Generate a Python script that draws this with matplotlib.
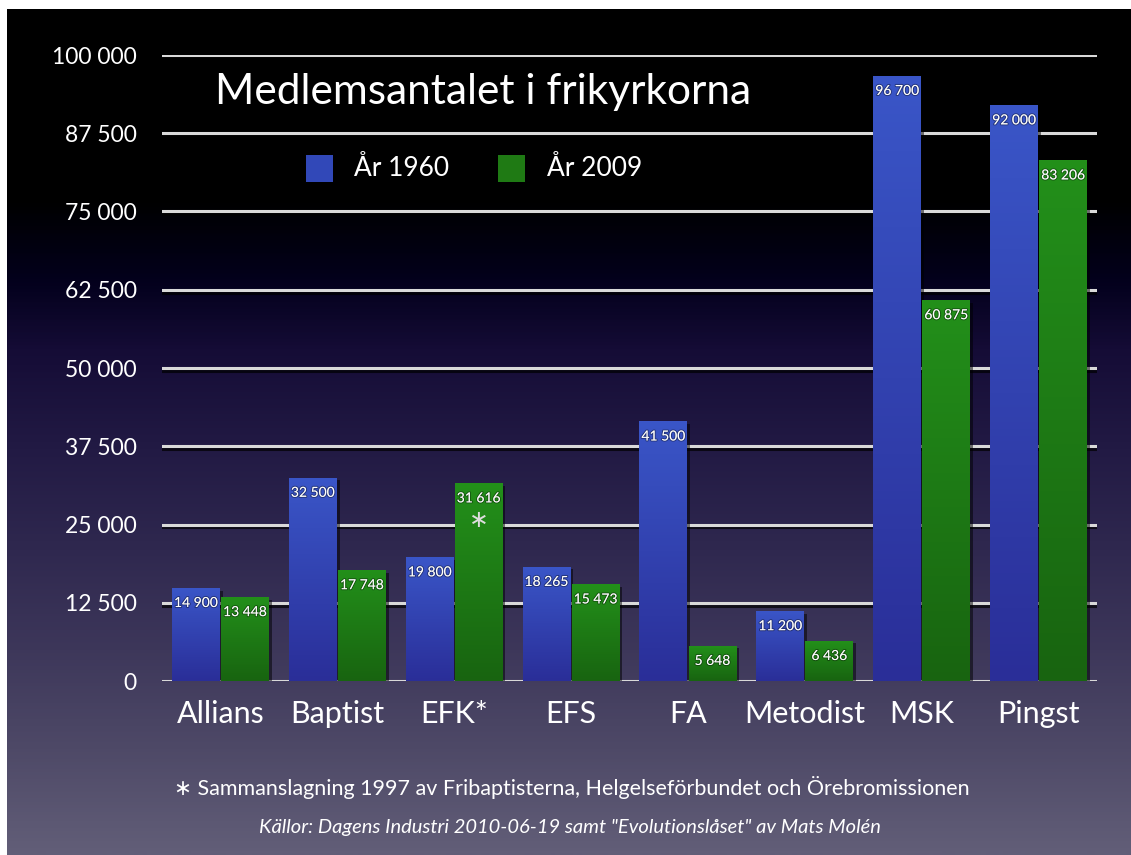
import numpy as np
import matplotlib
matplotlib.use("Agg")
import matplotlib.pyplot as plt
from matplotlib.patches import Rectangle
import matplotlib.patheffects as pe
from matplotlib.colors import LinearSegmentedColormap

categories = ["Allians", "Baptist", "EFK*", "EFS", "FA", "Metodist", "MSK", "Pingst"]
year1960 = [14900, 32500, 19800, 18265, 41500, 11200, 96700, 92000]
year2009 = [13448, 17748, 31616, 15473, 5648, 6436, 60875, 83206]
labels1960 = ["14 900", "32 500", "19 800", "18 265", "41 500", "11 200", "96 700", "92 000"]
labels2009 = ["13 448", "17 748", "31 616", "15 473", "5 648", "6 436", "60 875", "83 206"]
yticks = [0, 12500, 25000, 37500, 50000, 62500, 75000, 87500, 100000]
ytick_labels = ["0", "12 500", "25 000", "37 500", "50 000", "62 500", "75 000", "87 500", "100 000"]
series_names = ["År 1960", "År 2009"]
title = "Medlemsantalet i frikyrkorna"
footnote = "∗ Sammanslagning 1997 av Fribaptisterna, Helgelseförbundet och Örebromissionen"
source = "Källor: Dagens Industri 2010-06-19 samt \"Evolutionslåset\" av Mats Molén"

FONT = ["Lato", "DejaVu Sans"]
plt.rcParams['font.family'] = FONT

W, H = 1131, 855
fig = plt.figure(figsize=(W / 100, H / 100), dpi=100, facecolor="white")

# background gradient panel
bg = fig.add_axes([7 / W, 0, 1 - 7 / W, 1 - 9 / H], zorder=0)
bg.set_axis_off()
def t(ypix):
    return (ypix - 9) / (H - 9)
bg_cmap = LinearSegmentedColormap.from_list(
    "bg", [(0.0, "#000000"), (t(200), "#000000"), (t(280), "#03001c"),
           (t(350), "#150c36"), (t(450), "#221a44"), (t(550), "#2f284f"),
           (t(650), "#3d375a"), (t(750), "#4e4967"), (1.0, "#625e78")])
grad = np.linspace(0, 1, 846).reshape(-1, 1)
bg.imshow(grad, aspect="auto", cmap=bg_cmap, extent=(0, 1, 0, 1), origin="upper")
bg.set_xlim(0, 1)
bg.set_ylim(0, 1)

ax = fig.add_axes([162 / W, 1 - 681 / H, (1097 - 162) / W, (681 - 55) / H], zorder=1)
ax.patch.set_alpha(0)
for s in ax.spines.values():
    s.set_visible(False)

x = np.arange(len(categories))
w = 0.41
off = 0.21

blue_cmap = LinearSegmentedColormap.from_list("b", ["#3a56c8", "#2a2e98"])
green_cmap = LinearSegmentedColormap.from_list("g", ["#23901a", "#186410"])

shadow = [pe.SimplePatchShadow(offset=(2, -2), shadow_rgbFace="black", alpha=0.5), pe.Normal()]
bars1 = ax.bar(x - off, year1960, width=w, color="#3148b8", zorder=3, path_effects=shadow)
bars2 = ax.bar(x + off, year2009, width=w, color="#1f7a14", zorder=3, path_effects=shadow)

vgrad = np.linspace(0, 1, 256).reshape(-1, 1)
for bars, cm in ((bars1, blue_cmap), (bars2, green_cmap)):
    for b in bars:
        x0, y0 = b.get_x(), b.get_y()
        im = ax.imshow(vgrad, cmap=cm, aspect="auto", origin="upper",
                       extent=(x0, x0 + b.get_width(), y0, y0 + b.get_height()), zorder=4)
        im.set_clip_path(b)

# gridlines
line_fx = [pe.SimpleLineShadow(offset=(0, -2), shadow_color="black", alpha=0.7), pe.Normal()]
for yt in yticks:
    ax.axhline(yt, color="#d9d9d9", lw=2.2, zorder=2, path_effects=line_fx)

ax.set_xlim(-0.5, len(categories) - 0.5)
ax.set_ylim(0, 100000)
ax.set_yticks(yticks)
ax.set_yticklabels(ytick_labels)
ax.set_xticks(x)
ax.set_xticklabels(categories)
ax.tick_params(axis="y", length=0, pad=18, labelsize=16.5, labelcolor="white")
ax.tick_params(axis="x", length=0, pad=14, labelsize=22, labelcolor="white")

txt_fx = [pe.withStroke(linewidth=1.5, foreground=(0, 0, 0, 0.35))]
for bars, labs in ((bars1, labels1960), (bars2, labels2009)):
    for b, lab in zip(bars, labs):
        ax.annotate(lab, (b.get_x() + b.get_width() / 2, b.get_height()),
                    xytext=(0, -11), textcoords="offset points", ha="center", va="center",
                    color="white", fontsize=10, zorder=6, path_effects=txt_fx)
# asterisk on EFK 2009
b = bars2[categories.index("EFK*")]
ax.annotate("∗", (b.get_x() + b.get_width() / 2, b.get_height()),
            xytext=(0, -27), textcoords="offset points", ha="center", va="center",
            color="#dddddd", fontsize=17, zorder=6)

# title
fig.text(215 / W, 1 - 92 / H, title, color="white", fontsize=30.5, ha="left", va="center")

# legend (manual)
sq = 27
for i, (name, col) in enumerate(zip(series_names, ["#3148b8", "#1f7a14"])):
    sx = [306, 498][i]
    tx = [354, 547][i]
    fig.patches.append(Rectangle((sx / W, 1 - 182 / H), sq / W, sq / H,
                                 transform=fig.transFigure, facecolor=col,
                                 edgecolor="none", zorder=5))
    fig.text(tx / W, 1 - 168 / H, name, color="white", fontsize=19, ha="left", va="center")

fig.text(572 / W, 1 - 787 / H, footnote, color="white", fontsize=15.5, ha="center", va="center")
fig.text(570 / W, 1 - 827 / H, source, color="white", fontsize=14.5, style="italic",
         ha="center", va="center")

fig.savefig("out.png", dpi=100, facecolor="white")
